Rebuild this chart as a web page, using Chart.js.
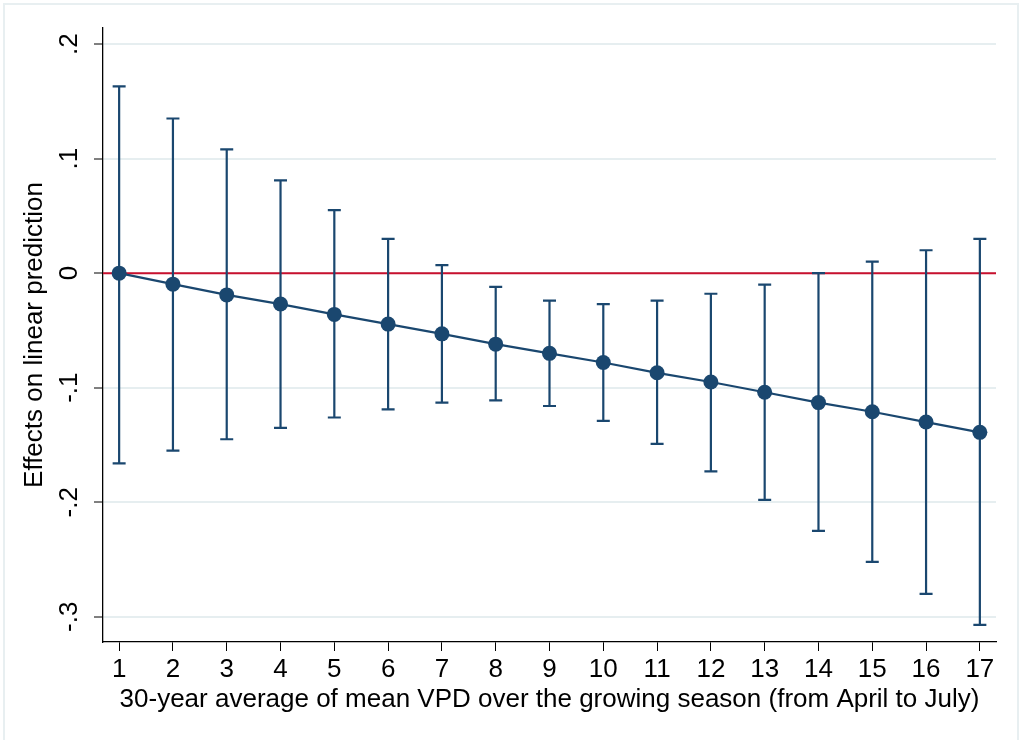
<!DOCTYPE html>
<html>
<head>
<meta charset="utf-8">
<script src="https://cdn.jsdelivr.net/npm/chart.js@4.4.1/dist/chart.umd.min.js"></script>
<style>
  body { margin: 0; background: #fff; }
  canvas { display: block; }
</style>
</head>
<body>
<canvas id="myChart" width="1021" height="740"></canvas>
<script>
var vpd = [1, 2, 3, 4, 5, 6, 7, 8, 9, 10, 11, 12, 13, 14, 15, 16, 17];
var effect = [0, -0.0096, -0.019, -0.027, -0.036, -0.0445, -0.053, -0.062, -0.070, -0.078, -0.087, -0.095, -0.104, -0.113, -0.121, -0.130, -0.139];
var upper = [0.163, 0.135, 0.108, 0.081, 0.055, 0.030, 0.007, -0.012, -0.024, -0.027, -0.024, -0.018, -0.010, 0.000, 0.010, 0.020, 0.030];
var lower = [-0.166, -0.155, -0.145, -0.135, -0.126, -0.119, -0.113, -0.111, -0.116, -0.129, -0.149, -0.173, -0.198, -0.225, -0.252, -0.280, -0.307];
var yTicks = [-0.3, -0.2, -0.1, 0, 0.1, 0.2];
var yTickLabels = ["-.3", "-.2", "-.1", "0", ".1", ".2"];

var navy = "#1a476f";
var red = "#c8102e";
var grid = "#e6eef0";
var fontFamily = "'Liberation Sans', Arial, sans-serif";
var fontSize = 26;

var extras = {
  id: "extras",
  beforeDraw: function (chart) {
    var c = chart.ctx;
    c.save();
    c.fillStyle = "#fff";
    c.fillRect(0, 0, chart.width, chart.height);
    c.strokeStyle = "#e8eff1";
    c.lineWidth = 2;
    c.strokeRect(4, 4, 1014, 750);
    c.restore();
  },
  beforeDatasetsDraw: function (chart) {
    var c = chart.ctx;
    var xs = chart.scales.x, ys = chart.scales.y;
    var area = chart.chartArea;
    c.save();
    // reference line at zero
    c.strokeStyle = red;
    c.lineWidth = 2;
    c.beginPath();
    c.moveTo(area.left, ys.getPixelForValue(0));
    c.lineTo(area.right, ys.getPixelForValue(0));
    c.stroke();
    // confidence intervals
    c.strokeStyle = navy;
    c.lineWidth = 2.2;
    for (var i = 0; i < vpd.length; i++) {
      var px = xs.getPixelForValue(vpd[i]);
      var top = ys.getPixelForValue(upper[i]);
      var bot = ys.getPixelForValue(lower[i]);
      c.beginPath();
      c.moveTo(px, top);
      c.lineTo(px, bot);
      c.moveTo(px - 6.5, top);
      c.lineTo(px + 6.5, top);
      c.moveTo(px - 6.5, bot);
      c.lineTo(px + 6.5, bot);
      c.stroke();
    }
    c.restore();
  },
  afterDraw: function (chart) {
    var c = chart.ctx;
    var ys = chart.scales.y;
    c.save();
    c.fillStyle = "#000";
    c.font = fontSize + "px " + fontFamily;
    c.textAlign = "center";
    c.textBaseline = "alphabetic";
    for (var i = 0; i < yTicks.length; i++) {
      c.save();
      c.translate(77, ys.getPixelForValue(yTicks[i]));
      c.rotate(-Math.PI / 2);
      c.fillText(yTickLabels[i], 0, 0);
      c.restore();
    }
    c.restore();
  }
};

var ctx = document.getElementById("myChart");

var myChart = new Chart(ctx, {
  type: "line",
  data: {
    datasets: [
      {
        label: "Effects",
        data: vpd.map(function (v, i) { return { x: v, y: effect[i] }; }),
        borderColor: navy,
        borderWidth: 2.2,
        backgroundColor: navy,
        pointBackgroundColor: navy,
        pointBorderWidth: 0,
        pointRadius: 7.5,
        tension: 0
      }
    ]
  },
  options: {
    responsive: false,
    animation: false,
    layout: { padding: { top: 28, right: 25, left: 0, bottom: 0 } },
    plugins: {
      legend: { display: false },
      tooltip: { enabled: false }
    },
    scales: {
      x: {
        type: "linear",
        min: 0.7,
        max: 17.3,
        afterBuildTicks: function (scale) {
          scale.ticks = vpd.map(function (v) { return { value: v }; });
        },
        afterFit: function (scale) { scale.height = 98; },
        grid: {
          drawOnChartArea: false,
          drawTicks: true,
          tickLength: 9,
          tickColor: "#000",
          tickWidth: 1
        },
        border: { display: true, color: "#000", width: 1.3 },
        ticks: {
          color: "#000",
          padding: 3,
          maxRotation: 0,
          font: { family: fontFamily, size: fontSize }
        },
        title: {
          display: true,
          text: "30-year average of mean VPD over the growing season (from April to July)",
          color: "#000",
          padding: { top: 0, bottom: 25 },
          font: { family: fontFamily, size: fontSize }
        }
      },
      y: {
        type: "linear",
        min: -0.322,
        max: 0.214,
        afterBuildTicks: function (scale) {
          scale.ticks = yTicks.map(function (v) { return { value: v }; });
        },
        afterFit: function (scale) { scale.width = 103; },
        grid: {
          color: grid,
          lineWidth: 2,
          drawTicks: true,
          tickLength: 9,
          tickColor: "#000",
          tickWidth: 1
        },
        border: { display: true, color: "#000", width: 1.3 },
        ticks: { display: false },
        title: {
          display: true,
          text: "Effects on linear prediction",
          color: "#000",
          padding: { top: 19, bottom: 0 },
          font: { family: fontFamily, size: fontSize }
        }
      }
    }
  },
  plugins: [extras]
});
</script>
</body>
</html>
